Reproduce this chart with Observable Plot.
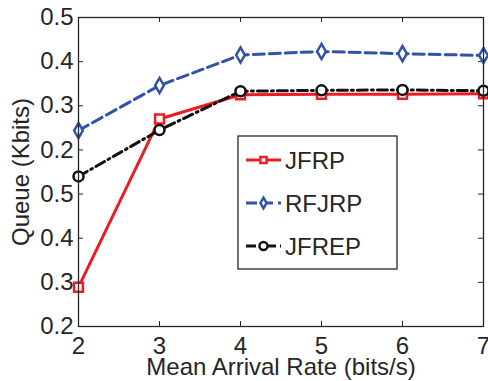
<!DOCTYPE html>
<html><head><meta charset="utf-8">
<script src="https://cdn.jsdelivr.net/npm/d3@7"></script>
<script src="https://cdn.jsdelivr.net/npm/@observablehq/plot@0.6"></script>
<style>
body{margin:0;background:#fff;}
#wrap{position:relative;width:488px;height:381px;font-family:"Liberation Sans",Arial,Helvetica,sans-serif;}
#legend{position:absolute;left:0;top:0;}
</style></head><body><div id="wrap"></div>
<script>
const rates = [2, 3, 4, 5, 6, 7];
const jfrp  = [0.289, 0.670, 0.725, 0.726, 0.726, 0.727];
const rfjrp = [0.644, 0.746, 0.815, 0.823, 0.818, 0.814];
const jfrep = [0.540, 0.645, 0.733, 0.735, 0.736, 0.734];
const seriesNames = ["JFRP", "RFJRP", "JFREP"];
const xTicks = [2, 3, 4, 5, 6, 7];
const yTickValues = [0.2, 0.3, 0.4, 0.5, 0.6, 0.7, 0.8, 0.9];
const yTickLabels = ["0.2", "0.3", "0.4", "0.5", "0.2", "0.3", "0.4", "0.5"];

const W = 488, H = 381, mL = 78, mR = 5, mT = 17, mB = 55;
const innerW = W - mL - mR, innerH = H - mT - mB;
const ink = "#262626";
const FS = 24;
const FF = '"Liberation Sans", Arial, Helvetica, sans-serif';
const styles = [
  {color: "#ec1c24", dash: null, symbol: "square", r: 5},
  {color: "#3052a8", dash: "11,5", symbol: "diamond", r: 4.6},
  {color: "#111111", dash: "10,4,2,4", symbol: "circle", r: 5}
];
const values = [jfrp, rfjrp, jfrep];
const rows = values.flatMap((vals, s) => rates.map((x, i) => ({series: seriesNames[s], s, x, y: vals[i]})));

const marks = [];
values.forEach((vals, s) => {
  const d = rows.filter(r => r.s === s);
  const st = styles[s];
  marks.push(Plot.line(d, {x: "x", y: "y", stroke: st.color, strokeWidth: 3, strokeDasharray: st.dash}));
  marks.push(Plot.dot(d, {x: "x", y: "y", stroke: st.color, strokeWidth: 2.5, fill: "white", symbol: st.symbol, r: st.r}));
});

const chart = Plot.plot({
  width: W, height: H,
  marginLeft: mL, marginRight: mR, marginTop: mT, marginBottom: mB,
  style: {fontFamily: FF, fontSize: FS + "px", color: ink, background: "white", overflow: "visible"},
  x: {domain: [2, 7]},
  y: {domain: [0.2, 0.9]},
  marks: [
    Plot.axisX(xTicks, {tickSize: 0, tickPadding: 10, fontSize: FS, fill: ink,
      label: "Mean Arrival Rate (bits/s)", labelAnchor: "center", labelArrow: "none", labelOffset: 48}),
    Plot.axisY(yTickValues, {tickSize: 0, tickPadding: 5, fontSize: FS, fill: ink,
      tickFormat: d => yTickLabels[Math.round((d - 0.2) * 10)],
      label: "Queue (Kbits)", labelAnchor: "center", labelArrow: "none", labelOffset: 67}),
    Plot.tickX(xTicks, {x: d => d, stroke: ink, strokeWidth: 1, insetTop: innerH - 5}),
    Plot.tickX(xTicks, {x: d => d, stroke: ink, strokeWidth: 1, insetBottom: innerH - 5}),
    Plot.tickY(yTickValues, {y: d => d, stroke: ink, strokeWidth: 1, insetRight: innerW - 5}),
    Plot.tickY(yTickValues, {y: d => d, stroke: ink, strokeWidth: 1, insetLeft: innerW - 5}),
    ...marks,
    Plot.frame({stroke: ink, strokeWidth: 1.3})
  ]
});
document.getElementById("wrap").appendChild(chart);

// Legend
const lg = d3.select("#wrap").append("svg").attr("id", "legend").attr("width", W).attr("height", H);
const box = {x: 238, y: 136, w: 159, h: 133};
lg.append("rect").attr("x", box.x).attr("y", box.y).attr("width", box.w).attr("height", box.h)
  .attr("fill", "white").attr("stroke", ink).attr("stroke-width", 1.3);
const symMap = {square: d3.symbolSquare, diamond: d3.symbolDiamond, circle: d3.symbolCircle};
const legR = [3.5, 3.2, 4];
seriesNames.forEach((name, i) => {
  const st = styles[i];
  const cy = box.y + 24 + i * 43;
  const g = lg.append("g");
  g.append("line").attr("x1", box.x + 8).attr("x2", box.x + 43).attr("y1", cy).attr("y2", cy)
    .attr("stroke", st.color).attr("stroke-width", 3).attr("stroke-dasharray", st.dash);
  g.append("path").attr("transform", `translate(${box.x + 25.5},${cy})`)
    .attr("d", d3.symbol(symMap[st.symbol], Math.PI * legR[i] * legR[i])())
    .attr("fill", "white").attr("stroke", st.color).attr("stroke-width", 2.5);
  g.append("text").attr("x", box.x + 47).attr("y", cy + 9).text(name)
    .attr("font-size", FS).attr("fill", ink).attr("font-family", FF);
});
</script></body></html>
